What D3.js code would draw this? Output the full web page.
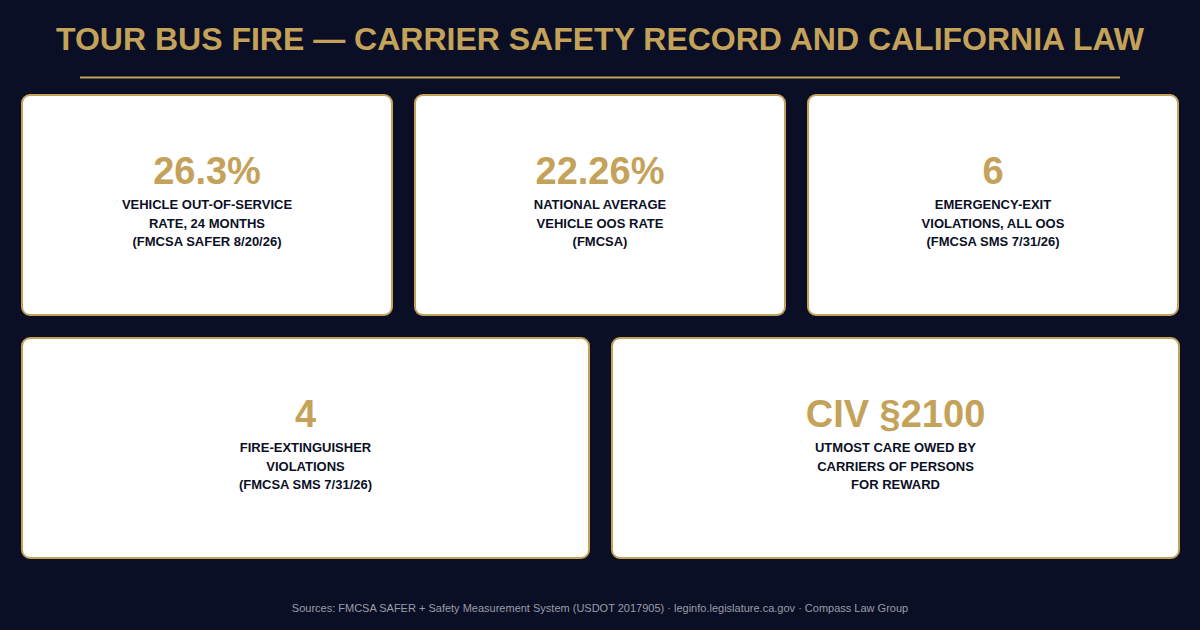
<!DOCTYPE html>
<html>
<head>
<meta charset="utf-8">
<script src="https://cdn.jsdelivr.net/npm/d3@7"></script>
<style>
  html, body { margin: 0; padding: 0; background: #0b0f26; }
  svg { display: block; }
</style>
</head>
<body>
<svg id="board" width="1200" height="630"></svg>
<script>
const title = "TOUR BUS FIRE — CARRIER SAFETY RECORD AND CALIFORNIA LAW";
const footer = "Sources: FMCSA SAFER + Safety Measurement System (USDOT 2017905) · leginfo.legislature.ca.gov · Compass Law Group";

const topValues = ["26.3%", "22.26%", "6"];
const topLabels = [
  ["VEHICLE OUT-OF-SERVICE", "RATE, 24 MONTHS", "(FMCSA SAFER 8/20/26)"],
  ["NATIONAL AVERAGE", "VEHICLE OOS RATE", "(FMCSA)"],
  ["EMERGENCY-EXIT", "VIOLATIONS, ALL OOS", "(FMCSA SMS 7/31/26)"]
];
const bottomValues = ["4", "CIV §2100"];
const bottomLabels = [
  ["FIRE-EXTINGUISHER", "VIOLATIONS", "(FMCSA SMS 7/31/26)"],
  ["UTMOST CARE OWED BY", "CARRIERS OF PERSONS", "FOR REWARD"]
];

const gold = "#c4a25a";
const navy = "#0b0f26";
const font = "'Liberation Sans', Arial, sans-serif";

const svg = d3.select("#board");
const width = +svg.attr("width");
const height = +svg.attr("height");

svg.append("rect").attr("width", width).attr("height", height).attr("fill", navy);

svg.append("text")
  .attr("x", width / 2)
  .attr("y", 50)
  .attr("text-anchor", "middle")
  .attr("font-family", font)
  .attr("font-size", "32px")
  .attr("font-weight", "bold")
  .attr("fill", gold)
  .text(title);

svg.append("line")
  .attr("x1", 80).attr("x2", 1120)
  .attr("y1", 77.5).attr("y2", 77.5)
  .attr("stroke", gold)
  .attr("stroke-width", 2);

// two rows of cards, 21px gap
const rowY = d3.scaleBand()
  .domain(["top", "bottom"])
  .range([94, 559])
  .paddingInner(21 / 243);

function drawRow(rowKey, values, labels, x0, x1) {
  const gap = 21;
  const step = (x1 - x0 + gap) / values.length;
  const x = d3.scaleBand()
    .domain(d3.range(values.length))
    .range([x0, x1])
    .paddingInner(gap / step);

  const y0 = rowY(rowKey);
  const h = rowY.bandwidth();

  const card = svg.append("g")
    .selectAll("g")
    .data(values.map((v, i) => ({ value: v, lines: labels[i], i })))
    .enter()
    .append("g")
    .attr("transform", d => `translate(${x(d.i)}, ${y0})`);

  card.append("rect")
    .attr("x", 1).attr("y", 1)
    .attr("width", x.bandwidth() - 2)
    .attr("height", h - 2)
    .attr("rx", 8)
    .attr("fill", "#ffffff")
    .attr("stroke", gold)
    .attr("stroke-width", 2);

  card.append("text")
    .attr("x", x.bandwidth() / 2)
    .attr("y", h / 2 - 21)
    .attr("text-anchor", "middle")
    .attr("font-family", font)
    .attr("font-size", "38px")
    .attr("font-weight", "bold")
    .attr("fill", gold)
    .text(d => d.value);

  card.each(function (d) {
    const g = d3.select(this);
    g.selectAll("text.lbl")
      .data(d.lines)
      .enter()
      .append("text")
      .attr("class", "lbl")
      .attr("x", x.bandwidth() / 2)
      .attr("y", (t, j) => h / 2 + 4 + j * 18.5)
      .attr("text-anchor", "middle")
      .attr("font-family", font)
      .attr("font-size", "13px")
      .attr("font-weight", "bold")
      .attr("fill", navy)
      .text(t => t);
  });
}

drawRow("top", topValues, topLabels, 21, 1179);
drawRow("bottom", bottomValues, bottomLabels, 21, 1180);

svg.append("text")
  .attr("x", width / 2)
  .attr("y", 612)
  .attr("text-anchor", "middle")
  .attr("font-family", font)
  .attr("font-size", "11px")
  .attr("fill", "#9a9cab")
  .text(footer);
</script>
</body>
</html>
